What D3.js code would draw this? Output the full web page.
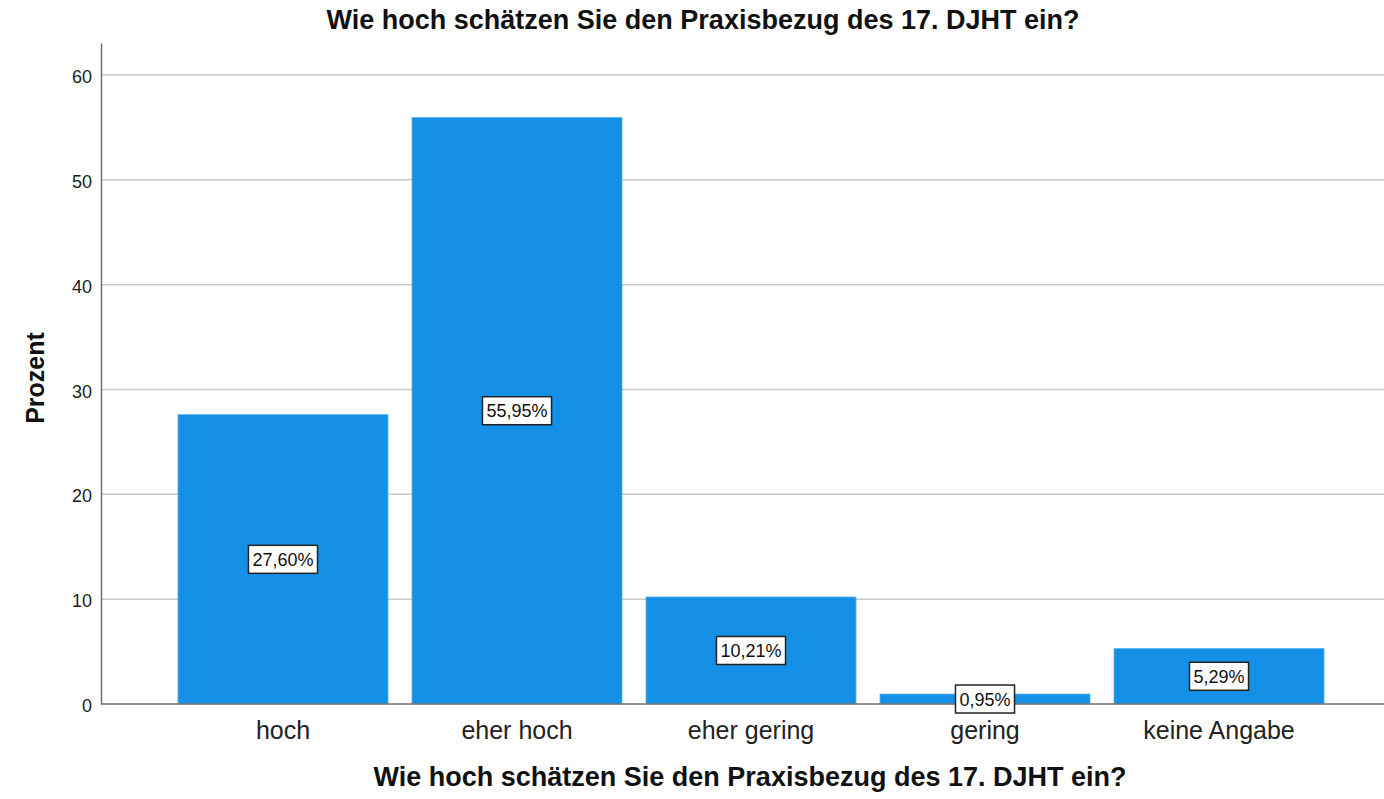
<!DOCTYPE html>
<html><head><meta charset="utf-8">
<script src="https://cdn.jsdelivr.net/npm/d3@7"></script>
<style>body{margin:0;background:#fff;} svg{display:block;font-family:"Liberation Sans",Arial,sans-serif;}</style>
</head><body>
<svg id="c" width="1384" height="799"></svg>
<script>
const categories = ["hoch","eher hoch","eher gering","gering","keine Angabe"];
const values = [27.60, 55.95, 10.21, 0.95, 5.29];
const valueLabels = ["27,60%","55,95%","10,21%","0,95%","5,29%"];
const yTicks = [0,10,20,30,40,50,60];
const title = "Wie hoch schätzen Sie den Praxisbezug des 17. DJHT ein?";
const yTitle = "Prozent";

(function(){
const svg = d3.select("#c");
const mLeft = 101, mTop = 43, mBottom = 704, mRight = 1401;
const y = d3.scaleLinear().domain([0, 63.05]).range([mBottom, mTop]);
const x = d3.scaleBand().domain(categories).range([mLeft, mRight]).paddingInner(0.1026).paddingOuter(0.329);

// gridlines
svg.append("g").selectAll("line").data(yTicks.filter(d=>d>0)).join("line")
  .attr("x1", mLeft).attr("x2", 1384).attr("y1", d=>y(d)).attr("y2", d=>y(d))
  .attr("stroke", "#c8c8c8").attr("stroke-width", 1.5);

// bars
svg.append("g").selectAll("rect").data(values).join("rect")
  .attr("x", (d,i)=>x(categories[i])).attr("width", x.bandwidth())
  .attr("y", d=>y(d)).attr("height", d=>mBottom - y(d))
  .attr("fill", "#1490e6").attr("stroke", "#5ab4f0").attr("stroke-width", 0.8);

// y axis
const yAxis = d3.axisLeft(y).tickValues(yTicks).tickSize(0).tickPadding(9).tickFormat(d3.format("d"));
const ga = svg.append("g").attr("transform", `translate(${mLeft},0)`).call(yAxis);
ga.select(".domain").attr("stroke", "#707070").attr("stroke-width", 1.5);
ga.selectAll("text").attr("font-size", 18).attr("fill", "#222").attr("dy", "0.42em")
  .attr("font-family", "Liberation Sans, Arial, sans-serif");

// x axis
const xAxis = d3.axisBottom(x).tickSize(0);
const gx = svg.append("g").attr("transform", `translate(0,${mBottom})`).call(xAxis);
gx.select(".domain").remove();
gx.selectAll("text").attr("y", 35).attr("dy", 0).attr("font-size", 25).attr("fill", "#222")
  .attr("font-family", "Liberation Sans, Arial, sans-serif");
svg.append("line").attr("x1", mLeft).attr("x2", 1384).attr("y1", mBottom).attr("y2", mBottom)
  .attr("stroke", "#707070").attr("stroke-width", 1.5);

// value labels
const lg = svg.append("g").selectAll("g").data(values).join("g")
  .attr("transform", (d,i)=>`translate(${x(categories[i]) + x.bandwidth()/2},${y(d/2)})`);
lg.append("text").text((d,i)=>valueLabels[i]).attr("text-anchor","middle").attr("dy","0.36em")
  .attr("font-size", 18).attr("fill", "#111");
lg.each(function(){
  const g = d3.select(this); const t = g.select("text").node().getBBox();
  g.insert("rect","text").attr("x", t.x-4).attr("y", -14).attr("width", t.width+8).attr("height", 28)
    .attr("fill", "#fff").attr("stroke", "#222").attr("stroke-width", 1.5);
});

// titles
svg.append("text").attr("x", 703).attr("y", 29).attr("text-anchor","middle")
  .attr("font-size", 27).attr("font-weight","bold").attr("fill","#111").text(title);
svg.append("text").attr("x", 750).attr("y", 786).attr("text-anchor","middle")
  .attr("font-size", 27).attr("font-weight","bold").attr("fill","#111").text(title);
svg.append("text").attr("transform", "translate(44,378) rotate(-90)").attr("text-anchor","middle")
  .attr("font-size", 25).attr("font-weight","bold").attr("fill","#111").text(yTitle);
})();
</script>
</body></html>
